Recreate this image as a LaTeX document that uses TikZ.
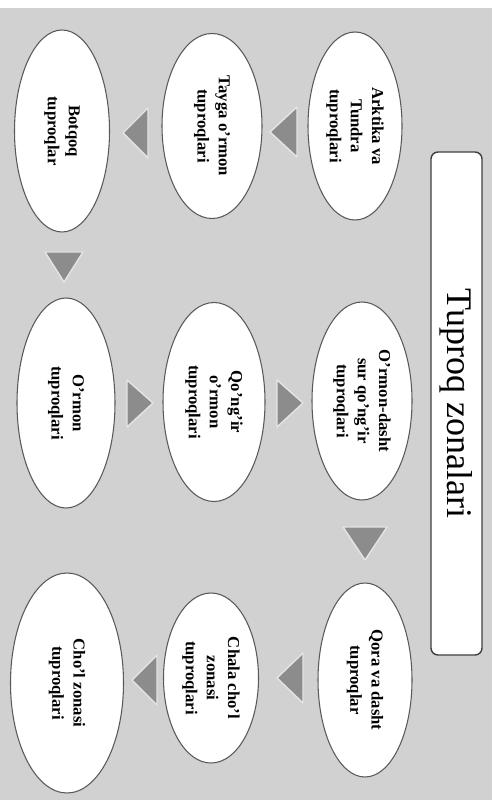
\documentclass[tikz,border=0pt]{standalone}
\usepackage{fontspec}
\setmainfont{Liberation Serif}
\usetikzlibrary{shapes.geometric}

\begin{document}
\begin{tikzpicture}[x=0.2mm,y=-0.2mm,
		zona/.style={ellipse,draw=black!65,line width=0.6pt,fill=white,rotate=-90,inner sep=0pt,align=center,font=\fontsize{9.5}{12}\selectfont\bfseries},
		sarlavha/.style={rectangle,rounded corners=4pt,draw=black!75,line width=0.8pt,fill=white,rotate=-90,minimum width=10.06cm,minimum height=1.02cm,font=\fontsize{20.5}{24}\selectfont},
		uchburchak/.style={fill=black!45,draw=black!10,line width=0.8pt,line join=round}]
				\useasboundingbox (0,0) rectangle (496,807);
				\fill[white] (0,0) rectangle (496,807);
				\fill[black!18] (0,8) rectangle (492,800);
				\node[sarlavha] (T) at (456.5,403.5) {Tuproq zonalari};
				\node[zona,minimum width=3.76cm,minimum height=1.88cm] (A) at (355,126) {Arktika va\\Tundra\\tuproqlari};
				\node[zona,minimum width=3.70cm,minimum height=2.00cm] (B) at (212,126) {Tayga o'rmon\\tuproqlari};
				\node[zona,minimum width=4.04cm,minimum height=1.90cm] (C) at (62,131) {Botqoq\\tuproqlar};
				\node[zona,minimum width=4.20cm,minimum height=1.96cm] (D) at (66,403) {O'rmon\\tuproqlari};
				\node[zona,minimum width=3.98cm,minimum height=2.04cm] (E) at (214,402) {Qo'ng'ir\\o'rmon\\tuproqlari};
				\node[zona,minimum width=3.96cm,minimum height=2.00cm] (F) at (362,401) {O'rmon-dasht\\sur qo'ng'ir\\tuproqlari};
				\node[zona,minimum width=3.88cm,minimum height=1.88cm] (G) at (365,680) {Qora va dasht\\tuproqlar};
				\node[zona,minimum width=3.40cm,minimum height=1.90cm] (H) at (211,678) {Chala cho'l\\zonasi\\tuproqlari};
				\node[zona,minimum width=4.40cm,minimum height=2.26cm] (I) at (67,683) {Cho'l zonasi\\tuproqlari};
				\filldraw[uchburchak] (270,132) -- (297,107) -- (297,157) -- cycle;
				\filldraw[uchburchak] (123,133) -- (148,108) -- (148,158) -- cycle;
				\filldraw[uchburchak] (64,282) -- (45,252) -- (83,252) -- cycle;
				\filldraw[uchburchak] (153,403) -- (127,380) -- (127,427) -- cycle;
				\filldraw[uchburchak] (303,403) -- (277,380) -- (277,427) -- cycle;
				\filldraw[uchburchak] (365,560) -- (343,527) -- (387,527) -- cycle;
				\filldraw[uchburchak] (277,678) -- (303,653) -- (303,703) -- cycle;
				\filldraw[uchburchak] (132,680) -- (157,655) -- (157,705) -- cycle;
			\end{tikzpicture}
\end{document}
